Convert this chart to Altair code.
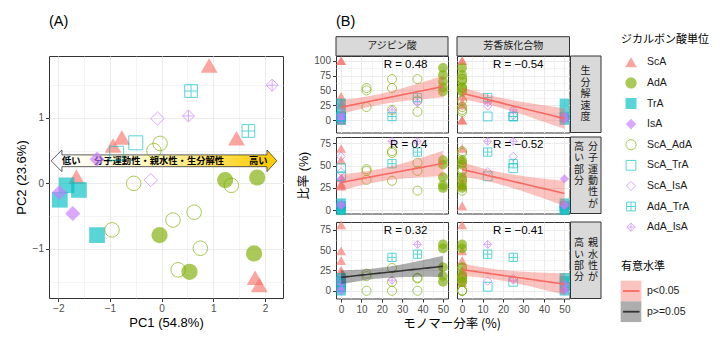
import numpy as np
import pandas as pd
import altair as alt

FONT = "Liberation Sans, Noto Sans CJK JP, sans-serif"
JFONT = "Noto Sans CJK JP, Liberation Sans, sans-serif"

# ---------------- categories & styles ----------------
TYPES = ["ScA", "AdA", "TrA", "IsA", "ScA_AdA", "ScA_TrA", "ScA_IsA", "AdA_TrA", "AdA_IsA"]
COL_SCA, COL_ADA, COL_TRA, COL_ISA = "#F8766D", "#7CAE00", "#00BFC4", "#C77CFF"
SQ_CROSS = "M-1,-1L1,-1L1,1L-1,1Z M0,-1L0,1 M-1,0L1,0"
DI_CROSS = "M0,-1L1,0L0,1L-1,0Z M0,-1L0,1 M-1,0L1,0"
SHAPES = ["triangle-up", "circle", "square", "diamond", "circle", "square", "diamond", SQ_CROSS, DI_CROSS]
FILLS = [COL_SCA, COL_ADA, COL_TRA, COL_ISA] + ["transparent"] * 5
STROKES = ["transparent"] * 4 + [COL_ADA, COL_TRA, COL_ISA, COL_TRA, COL_ISA]
SIZE_A = [280, 144, 169, 90, 177, 161, 280, 169, 289]
SIZE_B = [100, 64, 64, 36, 69, 56, 100, 56, 100]
SIZE_L = [137, 69, 69, 53, 87, 81, 144, 81, 144]

SIG_LEVELS = ["p<0.05", "p>=0.05"]
SIG_COLORS = ["#F66A62", "#333333"]

# ---------------- data ----------------
sample_type = (["ScA"] * 7 + ["AdA"] * 5 + ["TrA"] * 4 + ["IsA"] * 3 + ["ScA_AdA"] * 9
               + ["ScA_TrA"] * 2 + ["ScA_IsA"] * 2 + ["AdA_TrA"] * 2 + ["AdA_IsA"] * 2)

# (A) PCA scores
pc1 = [0.92, -0.77, -0.94, 1.45, -1.65, 1.81, 1.89,
       1.23, 1.85, -0.04, 1.79, 0.54,
       -1.84, -1.60, -1.97, -1.25,
       -1.25, -1.98, -1.72,
       -0.03, -0.15, -0.54, 1.35, 0.63, 0.22, -0.96, 0.75, 0.32,
       -0.50, -0.87,
       -0.08, -0.21,
       0.57, 1.68,
       2.14, 0.52]
pc2 = [1.80, 0.70, 0.58, 0.69, 0.10, -1.44, -1.55,
       0.05, 0.09, -0.79, -1.07, -1.35,
       -0.03, -0.10, -0.25, -0.79,
       0.37, -0.14, -0.46,
       0.61, 0.50, 0.00, -0.03, -0.44, -0.56, -0.71, -0.99, -1.32,
       0.62, 0.46,
       0.99, 0.05,
       1.41, 0.80,
       1.50, 1.03]

# (B) monomer fractions (%) and responses (%)
ada_pct = [0, 0, 0, 0, 0, 0, 0,
           50, 50, 50, 50, 50,
           0, 0, 0, 0,
           0, 0, 0,
           12.5, 12.5, 12.5, 25, 25, 25, 37.5, 37.5, 37.5,
           0, 0,
           0, 0,
           37.5, 25,
           37.5, 25]
arom_pct = [0, 0, 0, 0, 0, 0, 0,
            0, 0, 0, 0, 0,
            50, 50, 50, 50,
            50, 50, 50,
            0, 0, 0, 0, 0, 0, 0, 0, 0,
            12.5, 25,
            12.5, 25,
            12.5, 25,
            12.5, 25]
bio_rate = [100, 100, 40, 30, 25, 0, 0,
            88, 76, 65, 55, 48,
            28, 12, 5, 0,
            8, 3, 0,
            54, 50, 22, 69, 54, 17, 69, 33, 14,
            6, 6,
            24, 8,
            38, 6,
            29, 17]
mob_part = [69, 56, 36, 30, 28, 27, 5,
            56, 51, 37, 28, 25,
            8, 5, 2, 0,
            35, 7, 5,
            46, 44, 34, 66, 64, 33, 53, 44, 22,
            38, 47,
            43, 60,
            65, 52,
            77, 77]
hyd_part = [81, 49, 37, 25, 22, 15, 10,
            57, 52, 29, 18, 11,
            16, 12, 5, 0,
            8, 2, 0,
            21, 18, 0, 28, 11, 0, 16, 15, 0,
            5, 11,
            12, 15,
            45, 41,
            57, 13]

col_labels = ["アジピン酸", "芳香族化合物"]
r_labels = [["R = 0.48", "R = \u22120.54"],
            ["R = 0.4", "R = \u22120.52"],
            ["R = 0.32", "R = \u22120.41"]]
sig_labels = [["p<0.05", "p<0.05"],
              ["p<0.05", "p<0.05"],
              ["p>=0.05", "p<0.05"]]

# arrow annotation (data coordinates of panel A)
arrow_body_x = [-1.97, 2.08]
arrow_body_y = [0.255, 0.435]
arrow_head_x = [-1.93, 2.04]
arrow_mid_y = 0.345
arrow_text = ["低い", "分子運動性・親水性・生分解性", "高い"]
arrow_text_x = [-1.75, -0.05, 1.87]

dfA = pd.DataFrame({"type": sample_type, "pc1": pc1, "pc2": pc2})
dfB = pd.DataFrame({"type": sample_type, "ada": ada_pct, "arom": arom_pct,
                    "bio": bio_rate, "mob": mob_part, "hyd": hyd_part})

# ---------------- helpers ----------------
def type_enc(size_range):
    return dict(
        shape=alt.Shape("type:N", scale=alt.Scale(domain=TYPES, range=SHAPES), legend=None),
        fill=alt.Fill("type:N", scale=alt.Scale(domain=TYPES, range=FILLS), legend=None),
        stroke=alt.Stroke("type:N", scale=alt.Scale(domain=TYPES, range=STROKES), legend=None),
        size=alt.Size("type:N", scale=alt.Scale(domain=TYPES, range=size_range), legend=None),
    )

sig_color = alt.Color("sig:N", scale=alt.Scale(domain=SIG_LEVELS, range=SIG_COLORS), legend=None)


def axis_spec(values, major, labels, ticks, title=None, **kw):
    test = f"abs(datum.value % {major}) > 1e-6"
    d = dict(values=values, grid=True, gridColor="#EBEBEB",
             gridWidth={"condition": {"test": test, "value": 0.55}, "value": 1.1},
             domain=False, labels=labels, ticks=ticks, title=title,
             titleFont=FONT, titleFontSize=13, titleFontWeight="normal", titleColor="black")
    if labels:
        d.update(labelExpr=f"{test} ? '' : format(datum.value, '~g')", labelFont=FONT,
                 labelFontSize=10, labelColor="#4D4D4D", labelPadding=2)
    if ticks:
        d.update(tickColor="#333333", tickSize=3.5, tickWidth=1,
                 tickOpacity={"condition": {"test": test, "value": 0}, "value": 1})
    d.update(kw)
    return alt.Axis(**d)


T_CRIT = 2.032  # t(0.975, df = 34)
grid_x = np.arange(0, 50.5, 1.0)


def fit_band(x, y, lim):
    x = np.asarray(x, float)
    y = np.asarray(y, float)
    n = len(x)
    xm, ym = x.mean(), y.mean()
    sxx = ((x - xm) ** 2).sum()
    b = ((x - xm) * (y - ym)).sum() / sxx
    a = ym - b * xm
    s = np.sqrt(((y - a - b * x) ** 2).sum() / (n - 2))
    fit = a + b * grid_x
    half = T_CRIT * s * np.sqrt(1 / n + (grid_x - xm) ** 2 / sxx)
    # the panel clips the band at its edges
    return pd.DataFrame({"x": grid_x, "fit": fit,
                         "lo": np.clip(fit - half, lim[0], lim[1]),
                         "hi": np.clip(fit + half, lim[0], lim[1])})

# ---------------- panel A ----------------
A_W, A_H = 234, 242
xA_scale = alt.Scale(domain=[-2.18, 2.35], nice=False, zero=False)
yA_scale = alt.Scale(domain=[-1.75, 1.945], nice=False, zero=False)
xA_axis = axis_spec([-2, -1.5, -1, -0.5, 0, 0.5, 1, 1.5, 2], 1, True, True,
                    title="PC1 (54.8%)", titlePadding=3)
yA_axis = axis_spec([-1.5, -1, -0.5, 0, 0.5, 1, 1.5], 1, True, True,
                    title="PC2 (23.6%)", titlePadding=4)

def xA(f):
    return alt.X(f, type="quantitative", scale=xA_scale, axis=xA_axis)

def yA(f):
    return alt.Y(f, type="quantitative", scale=yA_scale, axis=yA_axis)

body_df = pd.DataFrame({"x0": [arrow_body_x[0]], "x1": [arrow_body_x[1]],
                        "y0": [arrow_body_y[0]], "y1": [arrow_body_y[1]]})
gradient = alt.LinearGradient(gradient="linear", x1=0, x2=1, y1=0, y2=0, stops=[
    alt.GradientStop(color="#FFFFFF", offset=0),
    alt.GradientStop(color="#FFF6B8", offset=0.45),
    alt.GradientStop(color="#FFCC00", offset=1)])
arrow_body = alt.Chart(body_df).mark_rect(fill=gradient, stroke="#333333", strokeWidth=0.8).encode(
    x=xA("x0"), x2=alt.X2("x1"), y=yA("y0"), y2=alt.Y2("y1"))
head_l = alt.Chart(pd.DataFrame({"x": [arrow_head_x[0]], "y": [arrow_mid_y]})).mark_point(
    shape="M0,-0.55L0,-1L-1,0L0,1L0,0.55", size=467, filled=True, fill="#FFFFFF",
    stroke="#333333", strokeWidth=0.8, opacity=1).encode(x=xA("x"), y=yA("y"))
head_r = alt.Chart(pd.DataFrame({"x": [arrow_head_x[1]], "y": [arrow_mid_y]})).mark_point(
    shape="M0,-0.55L0,-1L0.91,0L0,1L0,0.55", size=467, filled=True, fill="#FFCC00",
    stroke="#333333", strokeWidth=0.8, opacity=1).encode(x=xA("x"), y=yA("y"))
arrow_txt = alt.Chart(pd.DataFrame({"x": arrow_text_x, "y": [arrow_mid_y] * 3, "t": arrow_text})).mark_text(
    font=JFONT, fontSize=9.3, fontWeight="bold", color="black", baseline="middle").encode(
    x=xA("x"), y=yA("y"), text="t:N")
ptsA = alt.Chart(dfA).mark_point(filled=True, opacity=0.65, strokeWidth=1).encode(
    x=xA("pc1"), y=yA("pc2"), **type_enc(SIZE_A))
labelA = alt.Chart(pd.DataFrame({"t": ["(A)"]})).mark_text(
    font=FONT, fontSize=14.5, color="black", align="left", baseline="middle").encode(
    x=alt.value(0), y=alt.value(-34), text="t:N")

panelA = alt.layer(arrow_body, head_l, head_r, arrow_txt, ptsA, labelA).properties(
    width=A_W, height=A_H, view=alt.ViewBackground(stroke="#333333", strokeWidth=1))

# ---------------- panel B ----------------
ROW_H = 76.5
PANEL_W = [112, 112.5]
STRIP_W = 30.5
STRIP_H = 19.3
LINE_H = 11.4
ROW_FIELDS = ["bio", "mob", "hyd"]
COL_FIELDS = ["ada", "arom"]
ROW_DOMAINS = [[-21, 108], [-3.5, 81.8], [-9.5, 84.5]]
ROW_TICKS = [[0, 12.5, 25, 37.5, 50, 62.5, 75, 87.5, 100],
             [0, 12.5, 25, 37.5, 50, 62.5, 75],
             [0, 12.5, 25, 37.5, 50, 62.5, 75]]
XB_TICKS = [0, 5, 10, 15, 20, 25, 30, 35, 40, 45, 50]
R_X = [42.4, 39.8]
R_Y = [93.5, 73, 74]

# vertical strip labels: (x offset in strip, characters)
row_strip_text = [
    [(15, "生分解速度")],
    [(22.5, "分子運動性が"), (8.5, "高い部分")],
    [(22.5, "親水性が"), (8.5, "高い部分")],
]


def b_panel(r, c):
    w = PANEL_W[c]
    xs = alt.Scale(domain=[-2.5, 52.5], nice=False, zero=False)
    ys = alt.Scale(domain=ROW_DOMAINS[r], nice=False, zero=False)
    bottom = r == 2
    xaxis = axis_spec(XB_TICKS, 10, bottom, bottom)
    if r == 1 and c == 0:
        yaxis = axis_spec(ROW_TICKS[r], 25, True, True, title="比率 (%)", titleFontSize=12.5,
                          titleX=-32.4, titleY=ROW_H / 2, titleBaseline="middle", titleAlign="center")
    else:
        yaxis = axis_spec(ROW_TICKS[r], 25, c == 0, c == 0)

    def X(f):
        return alt.X(f, type="quantitative", scale=xs, axis=xaxis)

    def Y(f):
        return alt.Y(f, type="quantitative", scale=ys, axis=yaxis)

    pts = alt.Chart(dfB).mark_point(filled=True, opacity=0.65, strokeWidth=1).encode(
        x=X(COL_FIELDS[c]), y=Y(ROW_FIELDS[r]), **type_enc(SIZE_B))
    band = fit_band(dfB[COL_FIELDS[c]], dfB[ROW_FIELDS[r]], ROW_DOMAINS[r])
    band["sig"] = sig_labels[r][c]
    rib = alt.Chart(band).mark_area(opacity=0.4, clip=True).encode(
        x=X("x"), y=Y("lo"), y2=alt.Y2("hi"), color=sig_color)
    line = alt.Chart(band).mark_line(strokeWidth=1.6, clip=True).encode(
        x=X("x"), y=Y("fit"), color=sig_color)
    rt = alt.Chart(pd.DataFrame({"x": [R_X[c]], "y": [R_Y[r]], "t": [r_labels[r][c]]})).mark_text(
        align="right", baseline="middle", font=FONT, fontSize=11.5, color="black").encode(
        x=X("x"), y=Y("y"), text="t:N")
    layers = [pts, rib, line, rt]

    if r == 0:  # column strip above the panel
        sdf = pd.DataFrame({"t": [col_labels[c]]})
        layers.append(alt.Chart(sdf).mark_rect(fill="#D9D9D9", stroke="#333333", strokeWidth=1).encode(
            x=alt.value(0), x2=alt.value(w), y=alt.value(-STRIP_H), y2=alt.value(0)))
        layers.append(alt.Chart(sdf).mark_text(font=JFONT, fontSize=10, color="#1A1A1A",
                                               baseline="middle").encode(
            x=alt.value(w / 2), y=alt.value(-STRIP_H / 2), text="t:N"))
        if c == 0:
            layers.append(alt.Chart(pd.DataFrame({"t": ["(B)"]})).mark_text(
                font=FONT, fontSize=14.5, color="black", align="left", baseline="middle").encode(
                x=alt.value(0), y=alt.value(-34), text="t:N"))
    if c == 1:  # row strip right of the panel, label written vertically
        rdf = pd.DataFrame({"t": [""]})
        layers.append(alt.Chart(rdf).mark_rect(fill="#D9D9D9", stroke="#333333", strokeWidth=1).encode(
            x=alt.value(w + 1), x2=alt.value(w + 1 + STRIP_W), y=alt.value(0), y2=alt.value(ROW_H)))
        longest = max(len(lab) for _, lab in row_strip_text[r])
        top = ROW_H / 2 - longest * LINE_H / 2
        for xo, lab in row_strip_text[r]:
            for k, ch in enumerate(lab):
                layers.append(alt.Chart(pd.DataFrame({"t": [ch]})).mark_text(
                    font=JFONT, fontSize=10, color="#1A1A1A", baseline="middle").encode(
                    text="t:N", x=alt.value(w + 1 + xo), y=alt.value(top + LINE_H * (k + 0.5))))
    return alt.layer(*layers).properties(
        width=w, height=ROW_H, view=alt.ViewBackground(stroke="#333333", strokeWidth=1))


Bgrid = alt.concat(*[b_panel(r, c) for r in range(3) for c in range(2)], columns=2,
                   spacing={"row": 0, "column": 3},
                   title=alt.TitleParams("モノマー分率 (%)", orient="bottom", anchor="start",
                                         frame="group", dx=67.3, offset=9, font=JFONT,
                                         fontSize=12.5, fontWeight="normal", color="black",
                                         baseline="middle"))

# ---------------- legends ----------------
leg_types = pd.DataFrame({"type": TYPES})
leg_sig = pd.DataFrame({"sig": SIG_LEVELS})
yl1 = alt.Y("type:N", scale=alt.Scale(domain=TYPES, type="point", range=[6.3, 171.1], padding=0),
            axis=None)
yl2 = alt.Y("sig:N", scale=alt.Scale(domain=SIG_LEVELS, type="point", range=[235, 255.7], padding=0),
            axis=None)
leg_title1 = alt.Chart(pd.DataFrame({"t": ["ジカルボン酸単位"]})).mark_text(
    font=JFONT, fontSize=11, color="black", align="left", baseline="middle").encode(
    x=alt.value(0), y=alt.value(-16), text="t:N")
leg_title2 = alt.Chart(pd.DataFrame({"t": ["有意水準"]})).mark_text(
    font=JFONT, fontSize=11, color="black", align="left", baseline="middle").encode(
    x=alt.value(0), y=alt.value(210.7), text="t:N")
leg_pts = alt.Chart(leg_types).mark_point(filled=True, opacity=0.65, strokeWidth=1).encode(
    x=alt.value(10), y=yl1, **type_enc(SIZE_L))
leg_txt = alt.Chart(leg_types).mark_text(align="left", baseline="middle", font=FONT, fontSize=10.5,
                                         color="#1A1A1A").encode(x=alt.value(26), y=yl1, text="type:N")
sig_box = alt.Chart(leg_sig).mark_square(size=428, opacity=0.4).encode(
    x=alt.value(10), y=yl2, color=sig_color)
sig_line = alt.Chart(leg_sig).mark_rule(strokeWidth=1.8).encode(
    x=alt.value(2), x2=alt.value(18.5), y=yl2, color=sig_color)
sig_txt = alt.Chart(leg_sig).mark_text(align="left", baseline="middle", font=FONT, fontSize=10.5,
                                       color="#1A1A1A").encode(x=alt.value(26), y=yl2, text="sig:N")
legend = alt.layer(leg_title1, leg_pts, leg_txt, leg_title2, sig_box, sig_line, sig_txt).resolve_scale(
    y="independent").properties(width=85, height=260, view=alt.ViewBackground(strokeOpacity=0))

right = alt.hconcat(Bgrid, legend, spacing=18).resolve_scale(size="independent")

chart = alt.hconcat(panelA, right, spacing=13).resolve_scale(size="independent").properties(
    autosize=alt.AutoSizeParams(type="none"),
    padding={"left": 49, "top": 56, "right": 671, "bottom": 286},
    background="white")

chart.save("out.html", embed_options={"renderer": "svg", "actions": False})
